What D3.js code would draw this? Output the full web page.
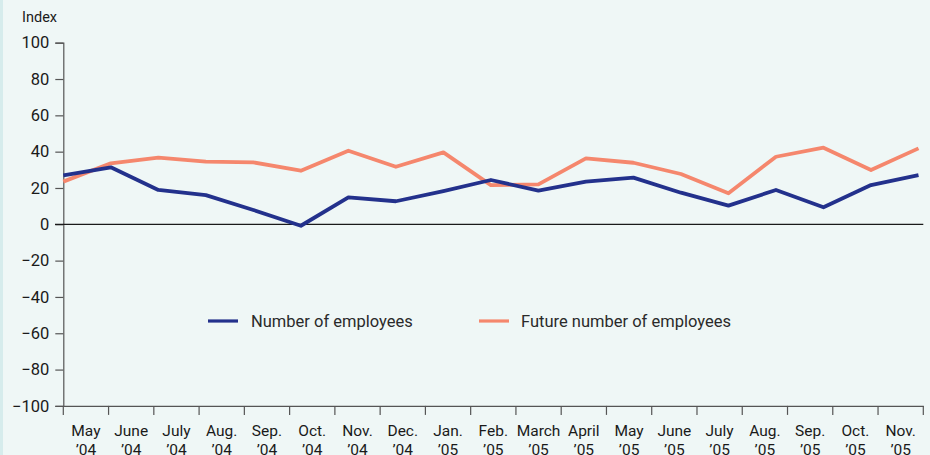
<!DOCTYPE html>
<html><head><meta charset="utf-8">
<script src="https://cdn.jsdelivr.net/npm/d3@7"></script>
<style>
html,body{margin:0;padding:0;background:#eff7f6;}
svg{display:block;}
text{font-family:Roboto,"Liberation Sans",sans-serif;}
</style></head>
<body>
<svg id="c" width="930" height="455"></svg>
<script>
const months = ["May","June","July","Aug.","Sep.","Oct.","Nov.","Dec.","Jan.","Feb.","March","April","May","June","July","Aug.","Sep.","Oct.","Nov."];
const years = ["’04","’04","’04","’04","’04","’04","’04","’04","’05","’05","’05","’05","’05","’05","’05","’05","’05","’05","’05"];
const employees = [27,31.4,18.9,16.1,7.9,-0.8,14.8,12.7,18.3,24.4,18.5,23.5,25.7,17.4,10.3,18.9,9.4,21.6,27.1];
const futureEmployees = [23.5,33.6,36.7,34.5,34.1,29.5,40.5,31.7,39.6,21.6,22,36.3,33.9,27.7,17.1,37.2,42.2,29.9,41.8];
const yTicks = [100,80,60,40,20,0,-20,-40,-60,-80,-100];
const seriesNames = ["Number of employees","Future number of employees"];
const colors = ["#23318c","#f5876d"];

const svg = d3.select("#c");
svg.append("rect").attr("x",0).attr("y",0).attr("width",3).attr("height",455).attr("fill","#d6ecec");

const x0 = 63.3, x1 = 923.3;
const idx = months.map((d,i)=>i);
const xBand = d3.scaleBand().domain(idx).range([x0,x1]);
const xPt = d3.scalePoint().domain(idx).range([x0,918.5]);
const y = d3.scaleLinear().domain([-100,100]).range([405.9,42.7]);

// y axis
const yAx = svg.append("g").attr("transform",`translate(${x0},0)`)
  .call(d3.axisLeft(y).tickValues(yTicks).tickSize(8).tickPadding(6).tickFormat(d=>d<0?"\u2212"+Math.abs(d):d));
yAx.select(".domain").attr("stroke","#555").attr("stroke-width",1.2);
yAx.selectAll(".tick line").attr("stroke","#555").attr("stroke-width",1.2);
yAx.selectAll(".tick text").attr("font-size",16.5).attr("fill","#1a1a1a");

// x axis
const xAx = svg.append("g").attr("transform",`translate(0,${y(-100)})`)
  .call(d3.axisBottom(xBand).tickSize(0).tickFormat(""));
xAx.select(".domain").attr("stroke","#555").attr("stroke-width",1.2);
xAx.selectAll(".tick").remove();
const tickPos = d3.range(months.length+1).map(i=>x0+i*xBand.step());
svg.append("g").selectAll("line").data(tickPos).join("line")
  .attr("x1",d=>d).attr("x2",d=>d).attr("y1",y(-100)).attr("y2",y(-100)+9)
  .attr("stroke","#555").attr("stroke-width",1.2);
const cx = d=>xBand(d)+xBand.bandwidth()/2;
svg.append("g").selectAll("text").data(idx).join("text")
  .attr("x",cx).attr("y",436).attr("text-anchor","middle")
  .attr("font-size",15.5).attr("fill","#1a1a1a").text(d=>months[d]);
svg.append("g").selectAll("text").data(idx).join("text")
  .attr("x",cx).attr("y",454.5).attr("text-anchor","middle")
  .attr("font-size",15.5).attr("fill","#1a1a1a").text(d=>years[d]);

// zero line
svg.append("line").attr("x1",55).attr("x2",x1).attr("y1",y(0)).attr("y2",y(0))
  .attr("stroke","#1a1a1a").attr("stroke-width",1.3);

svg.append("text").attr("x",22).attr("y",22).attr("font-size",14.5).attr("fill","#1a1a1a").text("Index");

// lines
const line = d3.line().x((d,i)=>xPt(i)).y(d=>y(d));
[futureEmployees, employees].forEach((s,k)=>{
  svg.append("path").datum(s).attr("d",line).attr("fill","none")
    .attr("stroke", k===0?colors[1]:colors[0]).attr("stroke-width",3.8).attr("stroke-linejoin","round");
});

// legend
const leg = [{x:208,tx:251},{x:479,tx:521}];
seriesNames.forEach((n,i)=>{
  svg.append("line").attr("x1",leg[i].x).attr("x2",leg[i].x+30).attr("y1",321).attr("y2",321)
    .attr("stroke",colors[i]).attr("stroke-width",3.2);
  svg.append("text").attr("x",leg[i].tx).attr("y",326.5).attr("font-size",16.5).attr("fill","#2a2a2a").text(n);
});
</script>
</body></html>
